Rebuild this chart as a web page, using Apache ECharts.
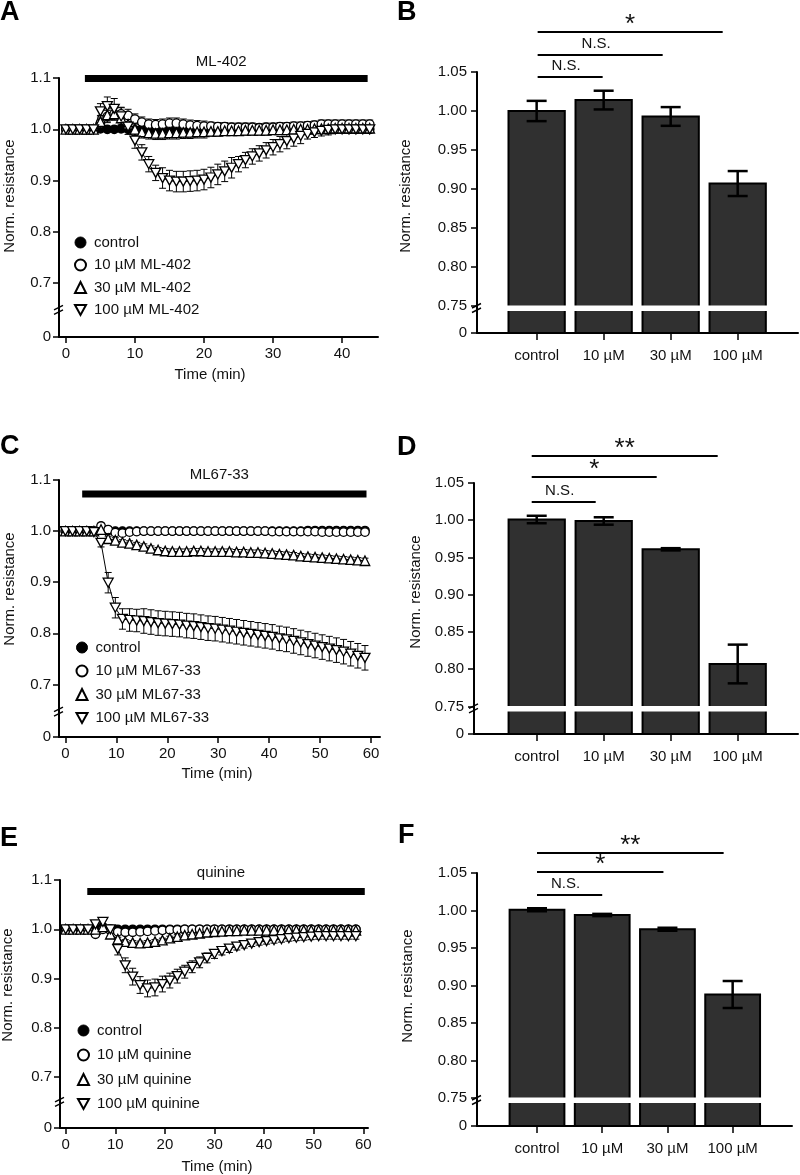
<!DOCTYPE html>
<html><head><meta charset="utf-8">
<script src="https://cdn.jsdelivr.net/npm/echarts@6.0.0/dist/echarts.min.js"></script>
<style>html,body{margin:0;padding:0;background:#fff}#c{width:800px;height:1175px}</style>
</head><body><div id="c"></div>
<script>
// ---------------- DATA ----------------
const A_T = [0,1,2,3,4,5,6,7,8,9,10,11,12,13,14,15,16,17,18,19,20,21,22,23,24,25,26,27,28,29,30,31,32,33,34,35,36,37,38,39,40,41,42,43,44];
const A_CTRL = [1.000,1.000,1.000,0.999,1.000, 1.001,1.000,1.000,1.001,1.000, 0.999,1.000,1.000,0.999,1.000, 1.000,1.001,1.000,0.999,1.000, 1.000,1.000,1.001,1.000,1.000, 0.999,1.000,1.000,1.000,1.001, 1.000,1.000,1.000,0.999,1.000, 1.000,1.001,1.000,1.000,1.000, 1.001,1.000,1.000,1.001,1.000];
const A_CTRL_E = [0.003,0.003,0.003,0.003,0.003, 0.004,0.004,0.004,0.004,0.004, 0.004,0.004,0.004,0.004,0.004, 0.004,0.004,0.004,0.004,0.004, 0.004,0.004,0.004,0.004,0.004, 0.004,0.004,0.004,0.004,0.004, 0.004,0.004,0.004,0.004,0.004, 0.004,0.004,0.004,0.004,0.004, 0.004,0.004,0.004,0.004,0.004];
const A_10 = [1.000,1.000,1.000,1.000,1.000, 1.012,1.025,1.030,1.030,1.027, 1.020,1.014,1.010,1.009,1.010, 1.012,1.012,1.010,1.008,1.007, 1.006,1.006,1.005,1.005,1.004, 1.004,1.004,1.004,1.003,1.004, 1.004,1.005,1.005,1.006,1.006, 1.007,1.008,1.010,1.010,1.010, 1.010,1.010,1.010,1.010,1.010];
const A_10_E = [0.002,0.002,0.002,0.002,0.002, 0.012,0.012,0.012,0.012,0.012, 0.010,0.010,0.010,0.010,0.010, 0.010,0.010,0.010,0.010,0.010, 0.010,0.008,0.008,0.008,0.008, 0.008,0.008,0.008,0.008,0.008, 0.008,0.008,0.008,0.008,0.008, 0.008,0.008,0.008,0.008,0.008, 0.008,0.008,0.008,0.008,0.008];
const A_30 = [1.000,1.000,1.000,1.000,1.000, 1.015,1.028,1.030,1.022,1.010, 1.000,0.995,0.993,0.992,0.992, 0.993,0.993,0.994,0.994,0.995, 0.995,0.996,0.996,0.997,0.997, 0.997,0.998,0.998,0.998,0.998, 0.999,0.999,0.999,1.000,1.000, 1.000,1.001,1.001,1.001,1.002, 1.002,1.002,1.002,1.002,1.002];
const A_30_E = [0.002,0.002,0.002,0.002,0.002, 0.012,0.012,0.012,0.012,0.012, 0.012,0.012,0.012,0.012,0.012, 0.012,0.012,0.012,0.012,0.012, 0.012,0.009,0.009,0.009,0.009, 0.009,0.009,0.009,0.009,0.009, 0.009,0.009,0.009,0.009,0.009, 0.009,0.009,0.009,0.009,0.009, 0.009,0.009,0.009,0.009,0.009];
const A_100 = [1.000,1.000,1.000,1.000,1.000, 1.035,1.045,1.040,1.025,1.005, 0.978,0.955,0.932,0.915,0.905, 0.900,0.898,0.898,0.899,0.900, 0.902,0.906,0.912,0.918,0.925, 0.932,0.940,0.947,0.953,0.959, 0.965,0.971,0.977,0.982,0.987, 0.991,0.994,0.997,0.999,1.000, 1.000,1.000,1.000,1.000,1.000];
const A_100_E = [0.002,0.002,0.002,0.002,0.002, 0.015,0.018,0.020,0.018,0.015, 0.015,0.015,0.015,0.015,0.020, 0.020,0.020,0.020,0.020,0.020, 0.020,0.020,0.020,0.020,0.020, 0.015,0.015,0.015,0.015,0.015, 0.015,0.015,0.015,0.015,0.015, 0.010,0.010,0.010,0.010,0.005, 0.005,0.005,0.005,0.005,0.005];

const C_T = [0,1.4,2.8,4.2,5.6,7.0,8.4,9.8,11.2,12.6,14.0,15.4,16.8,18.2,19.6,21.0,22.4,23.8,25.2,26.6,28.0,29.4,30.8,32.2,33.6,35.0,36.4,37.8,39.2,40.6,42.0,43.4,44.8,46.2,47.6,49.0,50.4,51.8,53.2,54.6,56.0,57.4,58.8];
const C_CTRL = [1.000,1.000,1.000,1.000,1.000, 1.005,1.001,1.000,1.000,1.000, 1.000,1.000,1.000,1.000,1.000, 1.000,1.000,1.000,1.000,1.000, 1.000,1.000,1.000,1.000,1.000, 1.000,1.000,1.000,1.000,1.000, 1.000,1.000,1.000,1.000,1.001, 1.001,1.001,1.001,1.001,1.001, 1.001,1.001,1.001];
const C_CTRL_E = [0.002,0.002,0.002,0.002,0.002, 0.006,0.004,0.004,0.004,0.004, 0.004,0.004,0.004,0.004,0.004, 0.004,0.004,0.004,0.004,0.004, 0.004,0.004,0.004,0.004,0.004, 0.004,0.004,0.004,0.004,0.004, 0.004,0.004,0.004,0.004,0.004, 0.004,0.004,0.004,0.004,0.004, 0.004,0.004,0.004];
const C_10 = [1.000,1.000,1.000,1.000,1.000, 1.010,1.003,0.997,0.996,0.998, 0.999,1.000,1.000,1.000,1.000, 1.000,1.000,1.000,1.000,1.000, 1.000,1.000,1.000,1.000,1.000, 1.000,1.000,1.000,1.000,0.999, 0.999,0.999,0.999,0.999,0.999, 0.999,0.998,0.998,0.998,0.998, 0.998,0.998,0.998];
const C_10_E = [0.002,0.002,0.002,0.002,0.002, 0.006,0.005,0.005,0.005,0.005, 0.005,0.005,0.005,0.005,0.005, 0.005,0.005,0.005,0.005,0.005, 0.005,0.005,0.005,0.005,0.005, 0.005,0.005,0.005,0.005,0.005, 0.005,0.005,0.005,0.005,0.005, 0.005,0.005,0.005,0.005,0.005, 0.005,0.005,0.005];
const C_30 = [1.000,1.000,1.000,1.000,1.000, 1.003,0.985,0.982,0.978,0.976, 0.973,0.970,0.966,0.963,0.961, 0.960,0.960,0.960,0.961,0.961, 0.960,0.960,0.960,0.960,0.959, 0.959,0.958,0.958,0.957,0.956, 0.955,0.954,0.953,0.951,0.950, 0.949,0.948,0.947,0.946,0.945, 0.944,0.943,0.942];
const C_30_E = [0.002,0.002,0.002,0.002,0.002, 0.005,0.005,0.005,0.005,0.005, 0.005,0.005,0.005,0.005,0.005, 0.005,0.005,0.005,0.005,0.005, 0.005,0.005,0.005,0.005,0.005, 0.005,0.005,0.005,0.005,0.005, 0.005,0.005,0.005,0.005,0.005, 0.005,0.005,0.005,0.005,0.005, 0.005,0.005,0.005];
const C_100 = [1.000,1.000,1.000,1.000,0.998, 0.977,0.899,0.850,0.828,0.826, 0.825,0.824,0.822,0.820,0.819, 0.818,0.817,0.815,0.814,0.812, 0.810,0.809,0.807,0.805,0.803, 0.801,0.799,0.797,0.795,0.793, 0.790,0.788,0.785,0.782,0.779, 0.776,0.773,0.770,0.767,0.764, 0.760,0.756,0.752];
const C_100_E = [0.002,0.002,0.002,0.002,0.003, 0.008,0.020,0.020,0.020,0.022, 0.022,0.024,0.024,0.024,0.024, 0.024,0.024,0.024,0.024,0.024, 0.024,0.024,0.024,0.024,0.024, 0.024,0.024,0.024,0.024,0.024, 0.024,0.024,0.024,0.024,0.024, 0.024,0.024,0.024,0.024,0.024, 0.024,0.024,0.024];

const E_T = [0,1.5,3,4.5,6,7.5,9,10.5,12,13.5,15,16.5,18,19.5,21,22.5,24,25.5,27,28.5,30,31.5,33,34.5,36,37.5,39,40.5,42,43.5,45,46.5,48,49.5,51,52.5,54,55.5,57,58.5];
const E_CTRL = [1.000,1.000,1.000,1.000,1.002, 1.005,1.001,1.000,1.000,1.000, 1.000,1.000,1.000,1.000,1.000, 1.000,1.000,1.000,1.000,1.000, 1.000,1.000,1.000,1.000,1.000, 1.000,1.000,1.000,1.000,1.000, 1.000,1.000,1.000,1.000,1.000, 1.000,1.000,1.000,1.000,1.000];
const E_CTRL_E = [0.002,0.002,0.002,0.002,0.004, 0.004,0.003,0.003,0.003,0.003, 0.003,0.003,0.003,0.003,0.003, 0.003,0.003,0.003,0.003,0.003, 0.003,0.003,0.003,0.003,0.003, 0.003,0.003,0.003,0.003,0.003, 0.003,0.003,0.003,0.003,0.003, 0.003,0.003,0.003,0.003,0.003];
const E_10 = [1.000,1.000,1.000,1.000,0.990, 1.000,0.998,0.995,0.994,0.994, 0.995,0.996,0.997,0.998,0.999, 0.999,1.000,1.000,1.000,1.000, 1.000,1.000,1.000,1.000,1.000, 1.000,1.000,1.000,1.000,1.000, 1.000,1.000,1.000,1.000,1.000, 1.000,1.000,1.000,1.000,1.000];
const E_10_E = [0.002,0.002,0.002,0.002,0.005, 0.004,0.004,0.004,0.004,0.004, 0.004,0.004,0.004,0.004,0.004, 0.004,0.004,0.004,0.004,0.004, 0.004,0.004,0.004,0.004,0.004, 0.004,0.004,0.004,0.004,0.004, 0.004,0.004,0.004,0.004,0.004, 0.004,0.004,0.004,0.004,0.004];
const E_30 = [1.000,1.000,1.000,1.000,1.000, 1.005,0.990,0.980,0.975,0.973, 0.972,0.973,0.975,0.978,0.982, 0.985,0.988,0.990,0.992,0.994, 0.995,0.996,0.997,0.997,0.998, 0.998,0.998,0.998,0.998,0.998, 0.998,0.998,0.998,0.998,0.998, 0.998,0.998,0.998,0.998,0.998];
const E_30_E = [0.002,0.002,0.002,0.002,0.004, 0.004,0.004,0.004,0.004,0.004, 0.004,0.004,0.004,0.004,0.004, 0.004,0.004,0.004,0.004,0.004, 0.004,0.004,0.004,0.004,0.004, 0.004,0.004,0.004,0.004,0.004, 0.004,0.004,0.004,0.004,0.004, 0.004,0.004,0.004,0.004,0.004];
const E_100 = [1.000,1.000,1.000,1.000,1.010, 1.015,1.000,0.960,0.927,0.904, 0.887,0.880,0.882,0.889,0.896, 0.905,0.914,0.924,0.933,0.942, 0.950,0.956,0.961,0.965,0.968, 0.971,0.974,0.976,0.978,0.980, 0.982,0.983,0.984,0.985,0.986, 0.986,0.986,0.986,0.986,0.986];
const E_100_E = [0.002,0.002,0.002,0.002,0.006, 0.008,0.008,0.012,0.015,0.017, 0.017,0.017,0.017,0.016,0.015, 0.014,0.013,0.012,0.011,0.010, 0.009,0.008,0.008,0.007,0.006, 0.006,0.006,0.006,0.006,0.006, 0.006,0.006,0.006,0.006,0.006, 0.006,0.006,0.006,0.006,0.006];

// drug application periods [start, end] in min
const DRUG_A = [2.75, 43.7], DRUG_C = [3.3, 59.1], DRUG_E = [4.35, 60.3];

const BAR_CATS = ['control', '10 µM', '30 µM', '100 µM'];
const B_VAL = [1.000, 1.014, 0.993, 0.907];
const B_ERR = [0.013, 0.012, 0.012, 0.016];
const D_VAL = [1.001, 0.999, 0.961, 0.807];
const D_ERR = [0.005, 0.005, 0.0015, 0.026];
const F_VAL = [1.001, 0.994, 0.975, 0.888];
const F_ERR = [0.002, 0.0015, 0.002, 0.018];

const SIG_B = [{a:0,b:1,text:'N.S.'},{a:0,b:2,text:'N.S.'},{a:0,b:3,text:'*'}];
const SIG_D = [{a:0,b:1,text:'N.S.'},{a:0,b:2,text:'*'},{a:0,b:3,text:'**'}];
const SIG_F = [{a:0,b:1,text:'N.S.'},{a:0,b:2,text:'*'},{a:0,b:3,text:'**'}];

const LINE_TICKS_Y = [0.7, 0.8, 0.9, 1.0, 1.1];
const BAR_TICKS_Y = [0.75, 0.80, 0.85, 0.90, 0.95, 1.00, 1.05];

// ---------------- LAYOUT / STYLE ----------------
const FONT = "'Liberation Sans', Arial, Helvetica, sans-serif";
const DOWN_TRI = 'path://M0,0L10,0L5,9Z';
const grids = [
  {left:59,  top:78,  width:319, height:259},  // A
  {left:477, top:72,  width:321, height:261},  // B
  {left:59,  top:480, width:321, height:257},  // C
  {left:474, top:483, width:324, height:251},  // D
  {left:60,  top:880, width:308, height:248},  // E
  {left:477, top:873, width:315, height:253}   // F
];
const yMins = [0.595, 0.7154, 0.597, 0.713, 0.597, 0.7127];
const xRanges = [[-1,45.2],[-0.89,3.9],[-1.25,61.75],[-0.936,3.9],[-1.15,60.95],[-0.92,3.91]];
const isBar = [false,true,false,true,false,true];

const xAxes = grids.map((g,i) => {
  const bar = isBar[i];
  const ticks = bar ? [0,1,2,3] : (i===0 ? [0,10,20,30,40] : [0,10,20,30,40,50,60]);
  return {
    type:'value', gridIndex:i, min:xRanges[i][0], max:xRanges[i][1],
    splitLine:{show:false},
    axisLine:{show:true, onZero:false, lineStyle:{color:'#000', width:2}},
    axisTick:{show:true, length: bar?7:6, customValues:ticks, lineStyle:{color:'#000', width:1.5}},
    axisLabel:{customValues:ticks, margin: bar?15:9, fontSize:15, color:'#111', fontFamily:FONT,
      formatter: bar ? (v => BAR_CATS[Math.round(v)]) : (v => String(Math.round(v)))}
  };
});
const yAxes = grids.map((g,i) => {
  const bar = isBar[i];
  const ticks = [yMins[i]].concat(bar ? BAR_TICKS_Y : LINE_TICKS_Y);
  return {
    type:'value', gridIndex:i, min:yMins[i], max: bar?1.05:1.1,
    splitLine:{show:false},
    axisLine:{show:true, onZero:false, lineStyle:{color:'#000', width:2}},
    axisTick:{show:true, length:6, customValues:ticks, lineStyle:{color:'#000', width:1.5}},
    axisLabel:{customValues:ticks, margin: bar?10:8, fontSize:15, color:'#111', fontFamily:FONT,
      formatter: v => (v < yMins[i] + 0.01) ? '0' : v.toFixed(bar?2:1)}
  };
});

function lineSeries(name, gi, T, V, symbol, fill, size) {
  return {
    type:'line', name, xAxisIndex:gi, yAxisIndex:gi,
    data: T.map((t,k)=>[t, V[k]]),
    symbol, symbolSize:size, showSymbol:true, showAllSymbol:true,
    itemStyle:{color:fill, borderColor:'#000', borderWidth:1.3},
    lineStyle:{color:'#000', width:1}, z:3, animation:false
  };
}
function errSeries(gi, T, V, E) {
  return {
    type:'custom', xAxisIndex:gi, yAxisIndex:gi, silent:true, z:2, animation:false,
    encode:{x:0, y:1},
    data: T.map((t,k)=>[t, V[k], E[k]]),
    renderItem(params, api) {
      const x = api.value(0), v = api.value(1), e = api.value(2);
      const hi = api.coord([x, v+e]), lo = api.coord([x, v-e]);
      const w = 3.5, st = {stroke:'#000', lineWidth:1};
      return {type:'group', children:[
        {type:'line', shape:{x1:hi[0],y1:hi[1],x2:lo[0],y2:lo[1]}, style:st},
        {type:'line', shape:{x1:hi[0]-w,y1:hi[1],x2:hi[0]+w,y2:hi[1]}, style:st},
        {type:'line', shape:{x1:lo[0]-w,y1:lo[1],x2:lo[0]+w,y2:lo[1]}, style:st}
      ]};
    }
  };
}
function drugSeries(gi, period, level) {
  return {
    type:'line', name:'drug'+gi, xAxisIndex:gi, yAxisIndex:gi, clip:false, silent:true,
    data:[[period[0], level],[period[1], level]], symbol:'none',
    lineStyle:{color:'#000', width:7, cap:'butt'}, z:5, animation:false
  };
}
function barSeries(gi, V, E) {
  const ymin = yMins[gi], HW = 0.42;
  return {
    type:'custom', xAxisIndex:gi, yAxisIndex:gi, silent:true, animation:false,
    encode:{x:0, y:1},
    data: V.map((v,k)=>[k, v, E[k]]),
    renderItem(params, api) {
      const i = api.value(0), v = api.value(1), e = api.value(2);
      const tl = api.coord([i-HW, v]), br = api.coord([i+HW, ymin]);
      const g = api.coord([i, 0.75]);
      const hi = api.coord([i, v+e]), lo = api.coord([i, v-e]);
      const cw = 10, st = {stroke:'#000', lineWidth:2.5};
      return {type:'group', children:[
        {type:'rect', shape:{x:tl[0], y:tl[1], width:br[0]-tl[0], height:br[1]-tl[1]},
          style:{fill:'#303030', stroke:'#000', lineWidth:2}},
        {type:'rect', shape:{x:tl[0]-2, y:g[1]-0.5, width:br[0]-tl[0]+4, height:5.5},
          style:{fill:'#fff'}},
        {type:'line', shape:{x1:hi[0],y1:hi[1],x2:lo[0],y2:lo[1]}, style:st},
        {type:'line', shape:{x1:hi[0]-cw,y1:hi[1],x2:hi[0]+cw,y2:hi[1]}, style:st},
        {type:'line', shape:{x1:lo[0]-cw,y1:lo[1],x2:lo[0]+cw,y2:lo[1]}, style:st}
      ]};
    }
  };
}

function panelLines(gi, drugName, T, C0, C0E, C1, C1E, C2, C2E, C3, C3E) {
  return [
    errSeries(gi, T, C0, C0E), errSeries(gi, T, C1, C1E), errSeries(gi, T, C2, C2E), errSeries(gi, T, C3, C3E),
    lineSeries('control', gi, T, C0, 'circle', '#000', 8.5),
    lineSeries('10 µM ' + drugName, gi, T, C1, 'circle', '#fff', 8.5),
    lineSeries('30 µM ' + drugName, gi, T, C2, 'triangle', '#fff', 9.5),
    lineSeries('100 µM ' + drugName, gi, T, C3, DOWN_TRI, '#fff', [10,9])
  ];
}

const series = [].concat(
  panelLines(0, 'ML-402', A_T, A_CTRL, A_CTRL_E, A_10, A_10_E, A_30, A_30_E, A_100, A_100_E),
  panelLines(2, 'ML67-33', C_T, C_CTRL, C_CTRL_E, C_10, C_10_E, C_30, C_30_E, C_100, C_100_E),
  panelLines(4, 'quinine', E_T, E_CTRL, E_CTRL_E, E_10, E_10_E, E_30, E_30_E, E_100, E_100_E),
  [drugSeries(0, DRUG_A, 1.099), drugSeries(2, DRUG_C, 1.0725), drugSeries(4, DRUG_E, 1.0766)],
  [barSeries(1, B_VAL, B_ERR), barSeries(3, D_VAL, D_ERR), barSeries(5, F_VAL, F_ERR)]
);

function legendFor(drug, left, top, gap) {
  const open = {color:'#fff', borderColor:'#000', borderWidth:2};
  return {
    orient:'vertical', left, top, padding:0, itemGap:gap, itemWidth:11, itemHeight:11,
    selectedMode:false,
    textStyle:{fontSize:15, color:'#111', fontFamily:FONT, padding:[0,0,0,3]},
    data:[
      {name:'control', icon:'circle', itemStyle:{color:'#000', borderColor:'#000', borderWidth:1}},
      {name:'10 µM ' + drug, icon:'circle', itemStyle:open},
      {name:'30 µM ' + drug, icon:'triangle', itemStyle:open},
      {name:'100 µM ' + drug, icon:DOWN_TRI, itemStyle:open}
    ]
  };
}

const chart = echarts.init(document.getElementById('c'), null, {renderer:'canvas', width:800, height:1175});
chart.setOption({
  animation:false,
  backgroundColor:'#fff',
  textStyle:{fontFamily:FONT},
  grid: grids,
  xAxis: xAxes,
  yAxis: yAxes,
  legend: [legendFor('ML-402', 74, 235, 7.5), legendFor('ML67-33', 75.5, 640, 8.5), legendFor('quinine', 77, 1023, 9.5)],
  series
});

// ---------------- ANNOTATIONS (graphic) ----------------
const G = [];
const px = (gi, x, y) => chart.convertToPixel({gridIndex:gi}, [x, y]);
function txt(text, x, y, size, opts) {
  G.push(Object.assign({type:'text', x, y, silent:true,
    style:{text, fontSize:size, fontFamily:FONT, fill:'#111', align:'center', verticalAlign:'middle',
      fontWeight:(opts&&opts.bold)?'bold':'normal'}}, opts && opts.rot ? {rotation:Math.PI/2} : {}));
}
// panel letters
[['A',0,13],['B',397,13],['C',0,447],['D',397,448],['E',0,839],['F',398,836]].forEach(([t,x,y]) => {
  G.push({type:'text', x, y, silent:true, style:{text:t, fontSize:27, fontWeight:'bold', fontFamily:FONT, fill:'#000', align:'left', verticalAlign:'middle'}});
});
// axis titles
[[10,196],[406,196],[9.5,589],[416,592],[8,985],[408,986]].forEach(([x,y]) => txt('Norm. resistance', x, y, 15, {rot:true}));
[[210,375],[217,774],[217,1167]].forEach(([x,y]) => txt('Time (min)', x, y, 15));
// drug labels above bars
[[0, DRUG_A, 1.099, 'ML-402', 16.5], [2, DRUG_C, 1.0725, 'ML67-33', 19], [4, DRUG_E, 1.0766, 'quinine', 19]].forEach(([gi, p, lvl, name, dy]) => {
  const a = px(gi, p[0], lvl), b = px(gi, p[1], lvl);
  txt(name, (a[0]+b[0])/2 - 5, a[1] - dy, 15);
});
// axis break marks
function breakMark(gi, yval, dy) {
  const p = px(gi, xRanges[gi][0], yval);
  const x = p[0], y = p[1] + dy;
  const st = {stroke:'#000', lineWidth:1.5};
  G.push({type:'line', silent:true, z:10, shape:{x1:x-5, y1:y-0.5, x2:x+4, y2:y-5}, style:st});
  G.push({type:'line', silent:true, z:10, shape:{x1:x-5, y1:y+4, x2:x+4, y2:y-0.5}, style:st});
}
breakMark(0, 0.647, 0); breakMark(2, 0.6457, 0); breakMark(4, 0.649, 0);
breakMark(1, 0.75, 2.5); breakMark(3, 0.75, 2.5); breakMark(5, 0.75, 2.5);
// significance bars
function sig(gi, defs, lineYs, startNudge, endNudges) {
  defs.forEach((d, k) => {
    const y = lineYs[k];
    const x1 = px(gi, d.a, 1)[0] + startNudge, x2 = px(gi, d.b, 1)[0] + endNudges[k];
    G.push({type:'line', silent:true, shape:{x1, y1:y, x2, y2:y}, style:{stroke:'#000', lineWidth:2}});
    const star = d.text.indexOf('*') >= 0;
    txt(d.text, (x1+x2)/2 - (star?0:4), star ? y - 7 : y - 11, star ? 26 : 15);
  });
}
sig(1, SIG_B, [77, 55, 32], 1, [-1, -8, -15]);
sig(3, SIG_D, [502, 477, 456], -5, [-8, -14, -20]);
sig(5, SIG_F, [895, 872, 853], 0, [0, -4, -9]);

chart.setOption({graphic: G});
</script></body></html>
